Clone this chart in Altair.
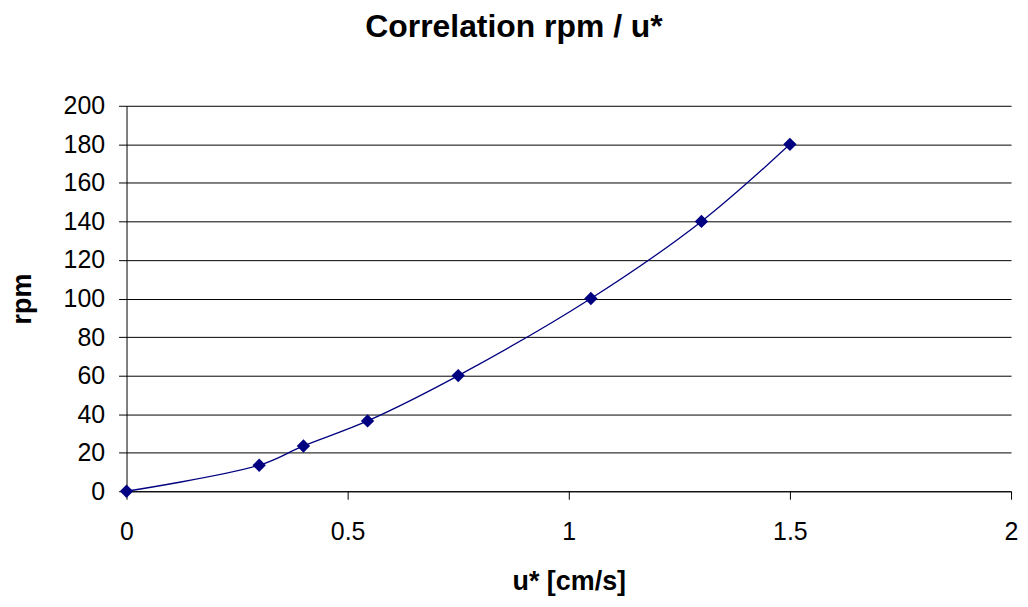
import altair as alt
import pandas as pd

u_star = [0.0, 0.3, 0.4, 0.545, 0.75, 1.05, 1.3, 1.5]
rpm = [0, 13.5, 23.5, 36.5, 60, 100, 140, 180]

df = pd.DataFrame({"u": u_star, "rpm": rpm})

FONT = "Liberation Sans"
W, H = 888, 387

x = alt.X("u:Q", scale=alt.Scale(domain=[0, 2], nice=False),
          axis=alt.Axis(values=[0, 0.5, 1, 1.5, 2], title="u* [cm/s]",
                        labelExpr="format(datum.value, '')",
                        labelFlush=False, labelOverlap=False,
                        grid=False, tickSize=8, labelPadding=20,
                        titleX=W / 2, titleY=91, titleBaseline="middle"))
y = alt.Y("rpm:Q", scale=alt.Scale(domain=[0, 200], nice=False),
          axis=alt.Axis(values=list(range(0, 201, 20)), title="rpm",
                        labelFlush=False, labelOverlap=False,
                        grid=True, tickSize=8, labelPadding=14,
                        titleX=-104, titleY=H / 2, titleBaseline="middle",
                        titleAlign="center"))

line = alt.Chart(df).mark_line(color="#000080", strokeWidth=1.3,
                                interpolate="catmull-rom").encode(x=x, y=y)
pts = alt.Chart(df).mark_point(shape="diamond", filled=True, color="#000080",
                               size=180, opacity=1).encode(x=x, y=y)

chart = (line + pts).properties(
    width=W, height=H,
    autosize=alt.AutoSizeParams(type="none"),
    padding={"left": 119, "top": 97, "right": 9, "bottom": 107},
    title=alt.TitleParams("Correlation rpm / u*", anchor="middle", dx=-55,
                          font=FONT, fontSize=32, fontWeight="bold",
                          color="black", offset=50),
).configure_view(stroke=None).configure_axis(
    labelFont=FONT, labelFontSize=25, labelColor="black",
    titleFont=FONT, titleFontSize=27, titleFontWeight="bold", titleColor="black",
    domainColor="#000000", domainWidth=1, tickColor="#000000", tickWidth=1,
    gridColor="#000000", gridWidth=1, gridOpacity=1,
)

chart.save("out.html", embed_options={"renderer": "svg", "actions": False})
